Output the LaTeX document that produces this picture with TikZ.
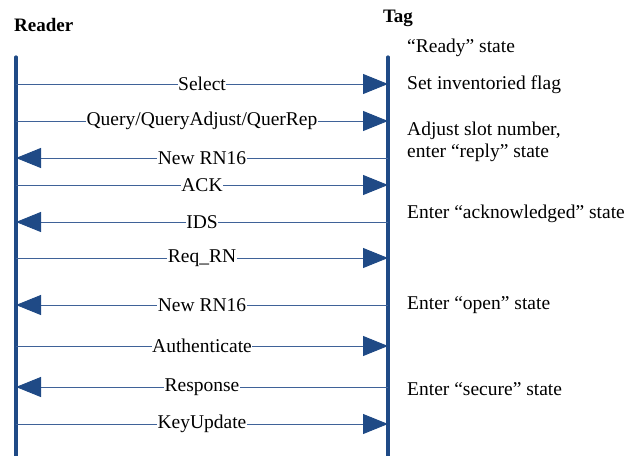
\documentclass[tikz,border=0pt]{standalone}
\usepackage{fontspec}
\setmainfont{Liberation Serif}
\usetikzlibrary{arrows.meta}
\definecolor{lifeblue}{HTML}{1F4A86}
\definecolor{msgblue}{HTML}{3F6298}
\begin{document}
\begin{tikzpicture}[x=1pt,y=-1pt,
  font=\fontsize{19.5}{22}\selectfont,
  lifeline/.style={line width=3.2pt, draw=lifeblue, line cap=round},
  msg/.style={draw=msgblue, line width=0.9pt,
    -{Triangle[length=25pt,width=20pt,color=lifeblue]}},
  lbl/.style={fill=white, inner xsep=0.5pt, inner ysep=0pt, text=black},
  note/.style={anchor=west, inner sep=0pt, align=left},
  head/.style={inner sep=0pt, font=\fontsize{19}{22}\selectfont\bfseries}]
\useasboundingbox (0,0) rectangle (626,455);

% lifelines
\coordinate (rtop) at (16,57);
\coordinate (rbot) at (16,458);
\coordinate (ttop) at (388,57);
\coordinate (tbot) at (388,458);
\draw[lifeline] (rtop) -- (rbot);
\draw[lifeline] (ttop) -- (tbot);

% headers
\node[head, anchor=west] (reader) at (14,25) {Reader};
\node[head] (tag) at (398,18) {Tag};

% message anchors on both lifelines
\foreach \n/\y in {a/84,b/121,c/158,d/185,e/222,f/258,g/305,h/346,i/387,j/424}{
  \coordinate (r\n) at (16,\y);
  \coordinate (t\n) at (388,\y);
}

% messages
\draw[msg] (ra) -- node[lbl]{Select} (ta);
\draw[msg] (rb) -- node[lbl]{Query/QueryAdjust/QuerRep} (tb);
\draw[msg] (tc) -- node[lbl]{New RN16} (rc);
\draw[msg] (rd) -- node[lbl]{ACK} (td);
\draw[msg] (te) -- node[lbl]{IDS} (re);
\draw[msg] (rf) -- node[lbl]{Req\_RN} (tf);
\draw[msg] (tg) -- node[lbl]{New RN16} (rg);
\draw[msg] (rh) -- node[lbl]{Authenticate} (th);
\draw[msg] (ti) -- node[lbl]{Response} (ri);
\draw[msg] (rj) -- node[lbl]{KeyUpdate} (tj);

% tag state notes
\node[note] (n0) at (407,48) {“Ready” state};
\node[note] (n1) at (407,85) {Set inventoried flag};
\node[note] (n2) at (407,142) {Adjust slot number,\\enter “reply” state};
\node[note] (n3) at (407,214) {Enter “acknowledged” state};
\node[note] (n4) at (407,305) {Enter “open” state};
\node[note] (n5) at (407,389) {Enter “secure” state};
\end{tikzpicture}
\end{document}
